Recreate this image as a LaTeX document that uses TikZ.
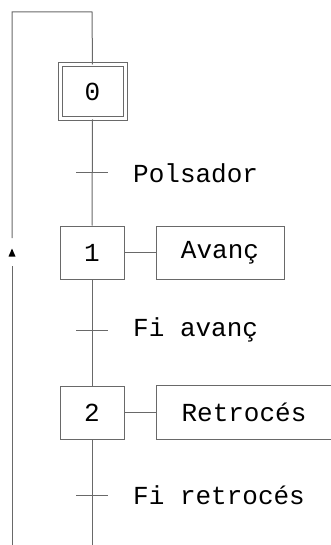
\documentclass[tikz,border=0pt]{standalone}
\usepackage{fontspec}
\setmonofont{Liberation Mono}
\definecolor{ln}{RGB}{105,105,105}
\begin{document}
\begin{tikzpicture}[x=1pt,y=-1pt,
  every node/.style={font=\ttfamily\fontsize{26}{30}\selectfont, text=black},
  stepbox/.style={draw=ln, line width=1pt, minimum width=64pt, minimum height=53pt, inner sep=0pt},
  actbox/.style={draw=ln, line width=1pt, minimum height=53pt, inner sep=0pt},
  link/.style={draw=ln, line width=1pt},
  lbl/.style={anchor=west, inner sep=0pt}]
\useasboundingbox (0,0) rectangle (331,545);
% steps
\node[stepbox, minimum width=65pt, minimum height=54pt, double=white, double distance=3pt] (s0) at (92.5,92) {0};
\node[stepbox] (s1) at (92,252.5) {1};
\node[stepbox] (s2) at (92,412.5) {2};
% actions
\node[actbox, minimum width=128pt] (a1) at (220,252.5) {Avanç};
\node[actbox, draw=none, anchor=west, minimum width=175pt] (a2) at (156,412.5) {Retrocés};
\draw[link] ([xshift=20pt]a2.north east) -- (a2.north west) -- (a2.south west) -- ([xshift=20pt]a2.south east);
\draw[link] (s1.east) -- (a1.west);
\draw[link] (s2.east) -- (a2.west);
% transitions
\coordinate (t1) at (92,173);
\coordinate (t2) at (92,330);
\coordinate (t3) at (92,495);
\draw[link] (s0.south) -- (s1.north);
\draw[link] (s1.south) -- (s2.north);
\coordinate (bot) at (92,546);
\draw[link] (s2.south) -- (bot);
\draw[link] ([xshift=-16pt]t1) -- ([xshift=16pt]t1);
\draw[link] ([xshift=-16pt]t2) -- ([xshift=16pt]t2);
\draw[link] ([xshift=-16pt]t3) -- ([xshift=16pt]t3);
\node[lbl] (l1) at (133,173) {Polsador};
\node[lbl] (l2) at (133,330) {Fi avanç};
\node[lbl] (l3) at (133,495) {Fi retrocés};
% loop back
\coordinate (tr) at (92,12);
\coordinate (tl) at (12,12);
\coordinate (g1) at (12,238);
\coordinate (g2) at (12,266);
\coordinate (lb) at (12,546);
\draw[link] (s0.north) -- (tr) -- (tl) -- (g1);
\draw[link] (g2) -- (lb);
\fill[black] (8.5,256.5) -- (15.5,256.5) -- (12,248.5) -- cycle;
\end{tikzpicture}
\end{document}
